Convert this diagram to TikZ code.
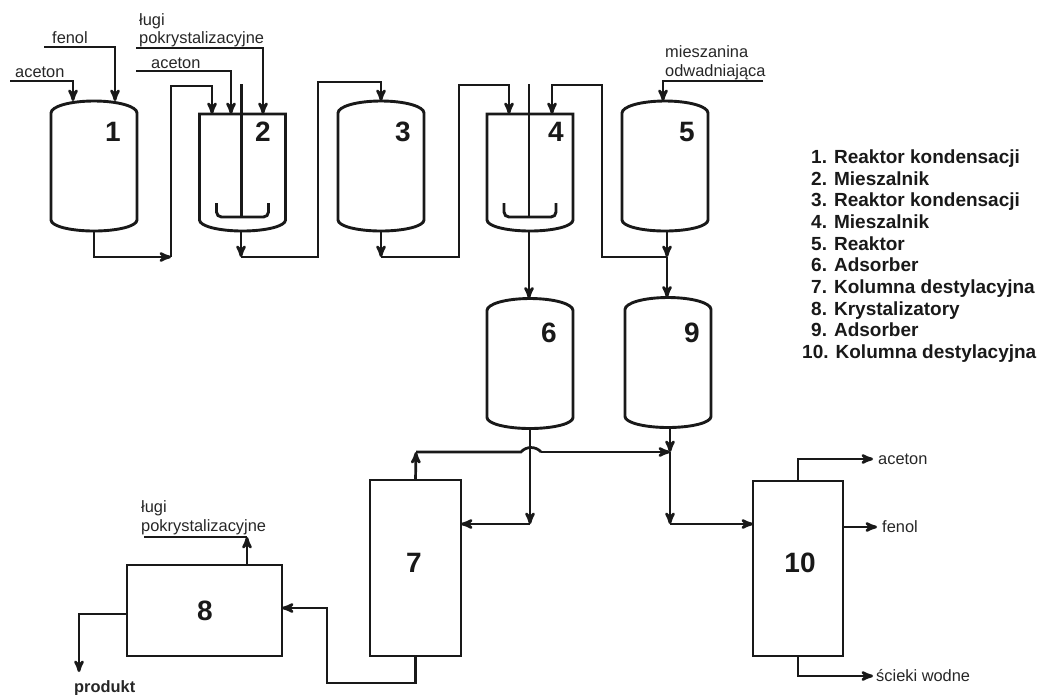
\documentclass[tikz,border=0pt]{standalone}
\usepackage{fontspec}
\setmainfont{Liberation Sans}
\usepackage{tikz}
\usetikzlibrary{arrows}

\tikzset{
  wall/.style={line width=2.9pt,draw=black!90},
  pipe/.style={line width=2.7pt,draw=black!90,>=stealth'},
  tank node/.style={minimum width=86pt,minimum height=130pt,inner sep=0pt,outer sep=0pt},
  mixer node/.style={minimum width=86pt,minimum height=117pt,inner sep=0pt,outer sep=0pt},
  column node/.style={rectangle,wall,draw,inner sep=0pt,outer sep=0pt},
  num node/.style={font=\fontsize{28}{28}\selectfont\bfseries,text=black!90,inner sep=0pt},
  stream node/.style={font=\fontsize{16.4}{19}\selectfont,text=black!85,inner sep=0pt,anchor=base west},
  legend node/.style={font=\fontsize{19}{21}\selectfont\bfseries,text=black!90,inner sep=0pt,anchor=base west}
}

% vessel with two domes: name, position
\newcommand{\tankshape}[2]{
  \node[tank node] (#1) at (#2) {};
  \draw[wall] ([yshift=-12pt]#1.north west) arc[start angle=180,end angle=0,x radius=43pt,y radius=12pt]
    -- ([yshift=11pt]#1.south east) arc[start angle=0,end angle=-180,x radius=43pt,y radius=11pt] -- cycle;
}
% vessel with flat lid, shaft and stirrer
\newcommand{\mixershape}[2]{
  \node[mixer node] (#1) at (#2) {};
  \draw[wall] (#1.north west) -- (#1.north east)
    -- ([yshift=11pt]#1.south east) arc[start angle=0,end angle=-180,x radius=43pt,y radius=11pt] -- cycle;
  \draw[wall] ([xshift=-1pt,yshift=30pt]#1.north) -- ([xshift=-1pt,yshift=14pt]#1.south);
  \draw[wall,rounded corners=5pt] ([xshift=-26pt,yshift=28pt]#1.south) -- ([xshift=-26pt,yshift=14pt]#1.south)
    -- ([xshift=26pt,yshift=14pt]#1.south) -- ([xshift=26pt,yshift=28pt]#1.south);
}

\begin{document}
\begin{tikzpicture}[x=1pt,y=-1pt]
  \useasboundingbox (0,0) rectangle (1040,694);

  \tankshape{r1}{94,166}
  \mixershape{m2}{242.5,172.5}
  \tankshape{r3}{381,166}
  \mixershape{m4}{530,172.5}
  \tankshape{r5}{665,166}
  \tankshape{r6}{530,363.5}
  \tankshape{r9}{668,362.5}

  \node[column node,minimum width=91pt,minimum height=176pt] (c7) at (415.5,568) {};
  \node[column node,minimum width=155pt,minimum height=91pt] (k8) at (204.5,610.5) {};
  \node[column node,minimum width=90pt,minimum height=175pt] (c10) at (798,568.5) {};

  \node[num node] (n1) at (113,132) {1};
  \node[num node] (n2) at (263,132) {2};
  \node[num node] (n3) at (403,132) {3};
  \node[num node] (n4) at (556,132) {4};
  \node[num node] (n5) at (687,132) {5};
  \node[num node] (n6) at (549,333) {6};
  \node[num node] (n9) at (692,333) {9};
  \node[num node] (n7) at (414,563) {7};
  \node[num node] (n8) at (205,611) {8};
  \node[num node] (n10) at (800,563) {10};

  % junctions and free ends
  \coordinate (a1) at (10,81);
  \coordinate (f1) at (44,47);
  \coordinate (l2) at (136,48);
  \coordinate (a2) at (136,71);
  \coordinate (o5) at (763,81);
  \coordinate (j1) at (171,257);
  \coordinate (u1) at (171,86);
  \coordinate (j2) at (241,257);
  \coordinate (u2) at (318,82);
  \coordinate (j3) at (381,257);
  \coordinate (u3) at (459,85);
  \coordinate (j5) at (667,257);
  \coordinate (u5) at (602,85);
  \coordinate (j6) at (530,524);
  \coordinate (j9) at (670,524);
  \coordinate (t9) at (670,452);
  \coordinate (t7) at (416,452);
  \coordinate (hl) at (521,452);
  \coordinate (hr) at (541,452);
  \coordinate (b7) at (327,683);
  \coordinate (e8) at (327,608);
  \coordinate (l8) at (144,537);
  \coordinate (w8) at (79,614);
  \coordinate (p8) at (79,672);
  \coordinate (e10a) at (873,459);
  \coordinate (e10f) at (877,527);
  \coordinate (e10w) at (873,676);

  % feeds
  \draw[pipe,->] (a1) -| ([xshift=-21pt]r1.north);
  \draw[pipe,->] (f1) -| ([xshift=21pt]r1.north);
  \draw[pipe,->] (l2) -| ([xshift=20.5pt]m2.north);
  \draw[pipe,->] (a2) -| ([xshift=-11.5pt]m2.north);
  \draw[pipe,->] (o5) -| ([xshift=-2pt]r5.north);

  % transfer lines
  \draw[pipe,->] (r1.south) |- (j1);
  \draw[pipe,->] (j1) -- (u1) -| ([xshift=-30.5pt]m2.north);
  \draw[pipe,->] (j2 |- m2.south) -- (j2);
  \draw[pipe,->] (j2) -| (u2) -| (r3.north);
  \draw[pipe,->] (r3.south) -- (j3);
  \draw[pipe,->] (j3) -| (u3) -| ([xshift=-21pt]m4.north);
  \draw[pipe,->] (j5 |- r5.south) -- (j5);
  \draw[pipe,->] (j5) -- (j5 |- r9.north);
  \draw[pipe,->] (j5) -| (u5) -| ([xshift=22pt]m4.north);
  \draw[pipe,->] ([xshift=-1pt]m4.south) -- ([xshift=-1pt]r6.north);

  % lower part
  \draw[pipe,->] (r6.south) -- (j6);
  \draw[pipe,->] (j6) -- (j6 -| c7.east);
  \draw[pipe,->] (t9 |- r9.south) -- (t9);
  \draw[pipe,->] (t9) -- (j9);
  \draw[pipe,->] (j9) -- (j9 -| c10.west);
  \draw[pipe,->] (c7.north) -- (t7);
  \draw[pipe] (t7) -- (hl) to[out=50,in=130] (hr);
  \draw[pipe,->] (hr) -- (t9);
  \draw[pipe,->] (c7.south) |- (b7) -- (e8) -- (e8 -| k8.east);
  \draw[pipe,->] ([xshift=42.5pt]k8.north) -- ([xshift=42.5pt]k8.north |- l8);
  \draw[pipe] ([xshift=42.5pt]k8.north |- l8) -- (l8);
  \draw[pipe,->] (k8.west |- w8) -- (w8) -- (p8);
  \draw[pipe,->] (c10.north) |- (e10a);
  \draw[pipe,->] (c10.east |- e10f) -- (e10f);
  \draw[pipe,->] (c10.south) |- (e10w);

  % stream labels
  \node[stream node] (ta1) at (15,77) {aceton};
  \node[stream node] (tf1) at (52,43) {fenol};
  \node[stream node] (tl1) at (139,25) {ługi};
  \node[stream node] (tl2) at (139,43) {pokrystalizacyjne};
  \node[stream node] (ta2) at (151,68) {aceton};
  \node[stream node] (to1) at (665,57) {mieszanina};
  \node[stream node] (to2) at (665,76) {odwadniająca};
  \node[stream node] (tk1) at (141,512) {ługi};
  \node[stream node] (tk2) at (141,531) {pokrystalizacyjne};
  \node[stream node] (te1) at (878,464) {aceton};
  \node[stream node] (te2) at (882,532) {fenol};
  \node[stream node] (te3) at (876,681) {ścieki wodne};
  \node[stream node,font=\fontsize{16.4}{19}\selectfont\bfseries] (tp) at (74,692) {produkt};

  % legend
  \node[legend node] (leg1) at (811,163) {1. Reaktor kondensacji};
  \node[legend node] (leg2) at (811,185) {2. Mieszalnik};
  \node[legend node] (leg3) at (811,206) {3. Reaktor kondensacji};
  \node[legend node] (leg4) at (811,228) {4. Mieszalnik};
  \node[legend node] (leg5) at (811,250) {5. Reaktor};
  \node[legend node] (leg6) at (811,271) {6. Adsorber};
  \node[legend node] (leg7) at (811,293) {7. Kolumna destylacyjna};
  \node[legend node] (leg8) at (811,315) {8. Krystalizatory};
  \node[legend node] (leg9) at (811,336) {9. Adsorber};
  \node[legend node] (leg10) at (802,358) {10. Kolumna destylacyjna};
\end{tikzpicture}
\end{document}
